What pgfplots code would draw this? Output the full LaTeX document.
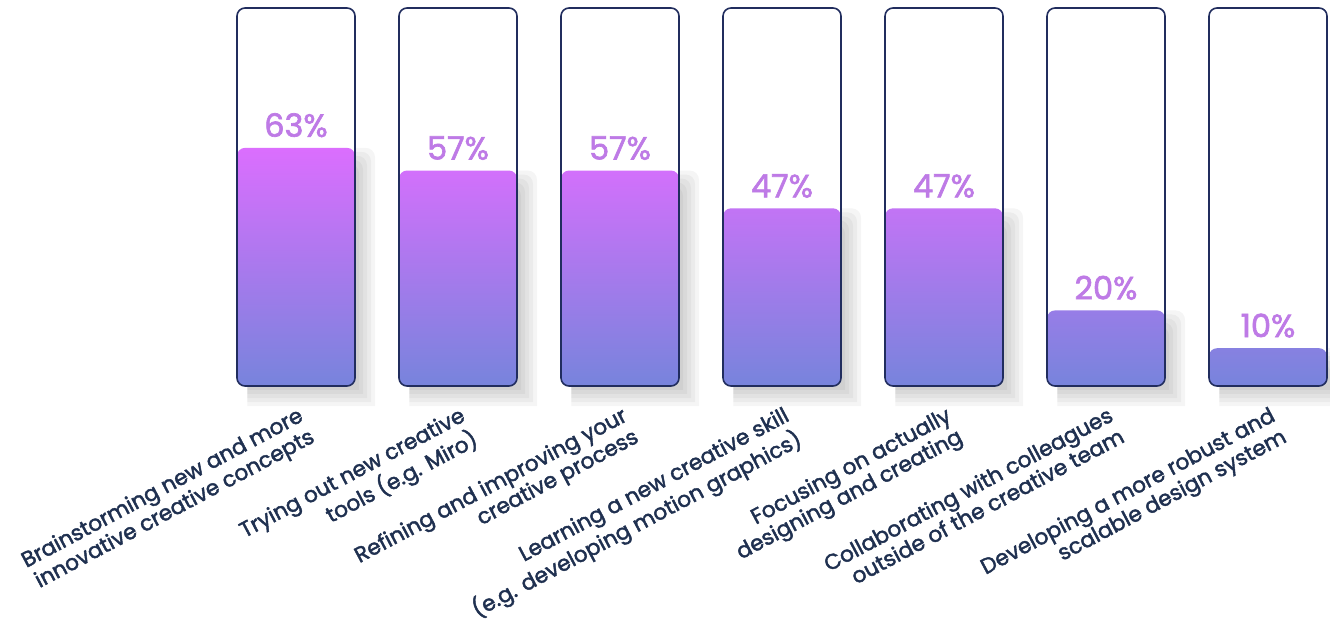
\documentclass[border=0pt]{standalone}
\usepackage{pgfplots}
\pgfplotsset{compat=1.18}
\usepackage{fontspec}
\setmainfont{Poppins}
\newfontfamily\labfont{Poppins}[FakeBold=2]
\newfontfamily\pctfont{Poppins}[FakeBold=2]
\definecolor{navy}{RGB}{33,45,94}
\definecolor{txt}{RGB}{31,48,80}
\definecolor{pct}{RGB}{190,122,230}
\definecolor{barbot}{RGB}{119,132,220}
\pgfplotsset{
  barbase/.style={ybar, bar width=88.5pt, bar shift=0pt, rounded corners=6pt},
  filled/.style={barbase, draw=none, bottom color=barbot,
    nodes near coords={\pgfmathprintnumber{\pgfplotspointmeta}\%},
    every node near coord/.append style={anchor=base, yshift=8.3pt, text=pct,
      font=\pctfont\fontsize{24}{26}\selectfont}},
  shadowlayer/.style={draw=none, fill=black, fill opacity=0.04, rounded corners=7pt,
    unbounded coords=jump, mark=none}
}
\tikzset{lab/.style={rotate=28, anchor=north east, align=right, text=txt, inner sep=0pt,
    font=\labfont\fontsize{16.2}{18}\selectfont}}
\begin{document}
\begin{tikzpicture}
\begin{axis}[at={(0,0)}, anchor=south west, scale only axis,
  width=997.5pt, height=463.5pt,
  xmin=-1.8272, xmax=6.3827, ymin=-61.376, ymax=102.116,
  hide axis, clip=false, /pgf/number format/assume math mode=true]
% soft shadows of the filled bars (layered)
\addplot[shadowlayer] coordinates {
 (-0.30,-1.058)(-0.30,58.767)(0.3889,58.767)(0.3889,-1.058)(0,nan)
 (0.70,-1.058)(0.70,52.767)(1.3889,52.767)(1.3889,-1.058)(1,nan)
 (1.70,-1.058)(1.70,52.767)(2.3889,52.767)(2.3889,-1.058)(2,nan)
 (2.70,-1.058)(2.70,42.767)(3.3889,42.767)(3.3889,-1.058)(3,nan)
 (3.70,-1.058)(3.70,42.767)(4.3889,42.767)(4.3889,-1.058)(4,nan)
 (4.70,-1.058)(4.70,15.767)(5.3889,15.767)(5.3889,-1.058)(5,nan)
 (5.70,-1.058)(5.70,5.767)(6.3889,5.767)(6.3889,-1.058)};
\addplot[shadowlayer] coordinates {
 (-0.30,-2.116)(-0.30,59.825)(0.4136,59.825)(0.4136,-2.116)(0,nan)
 (0.70,-2.116)(0.70,53.825)(1.4136,53.825)(1.4136,-2.116)(1,nan)
 (1.70,-2.116)(1.70,53.825)(2.4136,53.825)(2.4136,-2.116)(2,nan)
 (2.70,-2.116)(2.70,43.825)(3.4136,43.825)(3.4136,-2.116)(3,nan)
 (3.70,-2.116)(3.70,43.825)(4.4136,43.825)(4.4136,-2.116)(4,nan)
 (4.70,-2.116)(4.70,16.825)(5.4136,16.825)(5.4136,-2.116)(5,nan)
 (5.70,-2.116)(5.70,6.825)(6.4136,6.825)(6.4136,-2.116)};
\addplot[shadowlayer] coordinates {
 (-0.30,-3.175)(-0.30,60.884)(0.4383,60.884)(0.4383,-3.175)(0,nan)
 (0.70,-3.175)(0.70,54.884)(1.4383,54.884)(1.4383,-3.175)(1,nan)
 (1.70,-3.175)(1.70,54.884)(2.4383,54.884)(2.4383,-3.175)(2,nan)
 (2.70,-3.175)(2.70,44.884)(3.4383,44.884)(3.4383,-3.175)(3,nan)
 (3.70,-3.175)(3.70,44.884)(4.4383,44.884)(4.4383,-3.175)(4,nan)
 (4.70,-3.175)(4.70,17.884)(5.4383,17.884)(5.4383,-3.175)(5,nan)
 (5.70,-3.175)(5.70,7.884)(6.4383,7.884)(6.4383,-3.175)};
\addplot[shadowlayer] coordinates {
 (-0.30,-4.233)(-0.30,61.942)(0.4630,61.942)(0.4630,-4.233)(0,nan)
 (0.70,-4.233)(0.70,55.942)(1.4630,55.942)(1.4630,-4.233)(1,nan)
 (1.70,-4.233)(1.70,55.942)(2.4630,55.942)(2.4630,-4.233)(2,nan)
 (2.70,-4.233)(2.70,45.942)(3.4630,45.942)(3.4630,-4.233)(3,nan)
 (3.70,-4.233)(3.70,45.942)(4.4630,45.942)(4.4630,-4.233)(4,nan)
 (4.70,-4.233)(4.70,18.942)(5.4630,18.942)(5.4630,-4.233)(5,nan)
 (5.70,-4.233)(5.70,8.942)(6.4630,8.942)(6.4630,-4.233)};
\addplot[shadowlayer] coordinates {
 (-0.30,-5.291)(-0.30,63)(0.4877,63)(0.4877,-5.291)(0,nan)
 (0.70,-5.291)(0.70,57)(1.4877,57)(1.4877,-5.291)(1,nan)
 (1.70,-5.291)(1.70,57)(2.4877,57)(2.4877,-5.291)(2,nan)
 (2.70,-5.291)(2.70,47)(3.4877,47)(3.4877,-5.291)(3,nan)
 (3.70,-5.291)(3.70,47)(4.4877,47)(4.4877,-5.291)(4,nan)
 (4.70,-5.291)(4.70,20)(5.4877,20)(5.4877,-5.291)(5,nan)
 (5.70,-5.291)(5.70,10)(6.4877,10)(6.4877,-5.291)};
% containers (white fill)
\addplot[barbase, fill=white, draw=none] coordinates {(0,100)(1,100)(2,100)(3,100)(4,100)(5,100)(6,100)};
% filled bars
\addplot[filled, top color={rgb,255:red,219;green,110;blue,254}] coordinates {(0,63)};
\addplot[filled, top color={rgb,255:red,210;green,112;blue,251}] coordinates {(1,57)};
\addplot[filled, top color={rgb,255:red,210;green,112;blue,251}] coordinates {(2,57)};
\addplot[filled, top color={rgb,255:red,194;green,116;blue,245}] coordinates {(3,47)};
\addplot[filled, top color={rgb,255:red,194;green,116;blue,245}] coordinates {(4,47)};
\addplot[filled, top color={rgb,255:red,151;green,125;blue,231}] coordinates {(5,20)};
\addplot[filled, top color={rgb,255:red,135;green,129;blue,225}] coordinates {(6,10)};
% container borders
\addplot[barbase, fill=none, draw=navy, line width=1.2pt] coordinates {(0,100)(1,100)(2,100)(3,100)(4,100)(5,100)(6,100)};
% category labels
\node[lab] at (axis cs:0.005,-5.1) {Brainstorming new and more\\innovative creative concepts};
\node[lab] at (axis cs:1.005,-5.1) {Trying out new creative\\tools (e.g. Miro)};
\node[lab] at (axis cs:2.005,-5.1) {Refining and improving your\\creative process};
\node[lab] at (axis cs:3.005,-5.1) {Learning a new creative skill\\(e.g. developing motion graphics)};
\node[lab] at (axis cs:4.005,-5.1) {Focusing on actually\\designing and creating};
\node[lab] at (axis cs:5.005,-5.1) {Collaborating with colleagues\\outside of the creative team};
\node[lab] at (axis cs:6.005,-5.1) {Developing a more robust and\\scalable design system};
\end{axis}
\pgfresetboundingbox
\useasboundingbox (0,0) rectangle (997.5pt,463.5pt);
\end{tikzpicture}
\end{document}
